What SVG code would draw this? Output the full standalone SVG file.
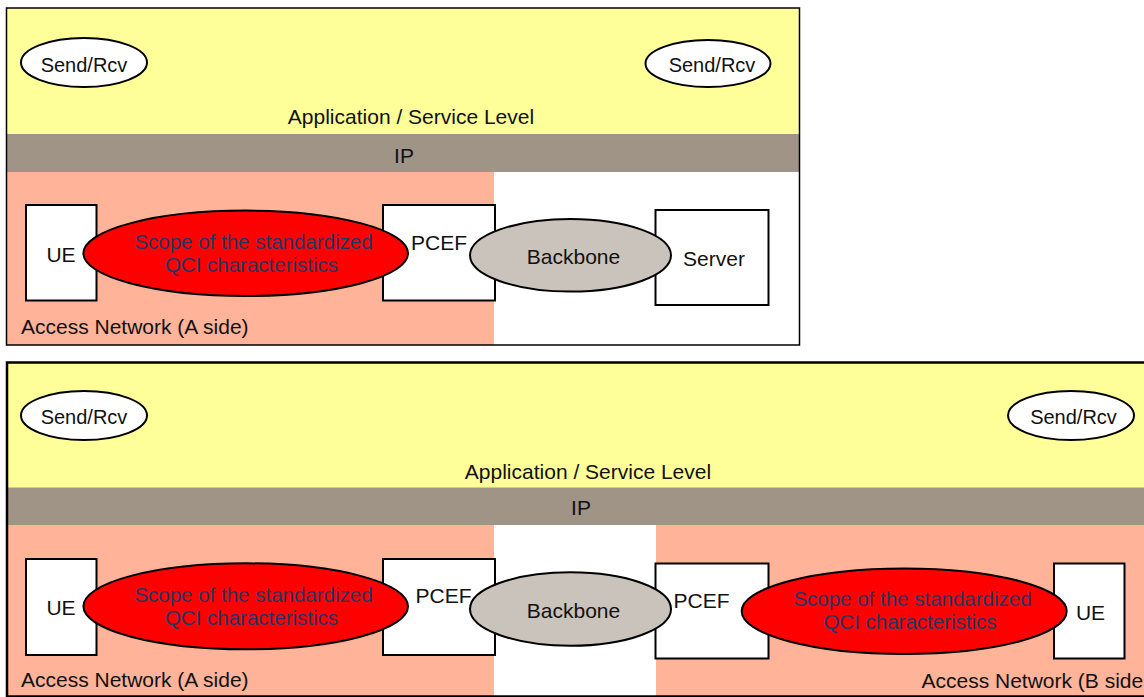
<svg xmlns="http://www.w3.org/2000/svg" width="1144" height="697" viewBox="0 0 1144 697">
<style>
text{font-family:"Liberation Sans",Arial,sans-serif;font-size:21px;fill:#111;text-anchor:middle}
.sr{font-size:20px}
.lt{text-anchor:start}
.q{fill:#1F3864;font-size:20.5px}
.yel{fill:#FFFF99}
.ip{fill:#A09487}
.sal{fill:#FFB399}
.frame{fill:none;stroke:#000;stroke-width:2}
.box{fill:#fff;stroke:#000;stroke-width:2}
.oval{fill:#fff;stroke:#000;stroke-width:2}
.red{fill:#FF0000;stroke:#000;stroke-width:2}
.bb{fill:#C9C3BB;stroke:#000;stroke-width:2}
</style>
<rect width="1144" height="697" fill="#fff"/>

<g id="top-diagram">
  <rect class="yel" x="6.5" y="8" width="793" height="126"/>
  <rect class="ip" x="6.5" y="134" width="793" height="38"/>
  <rect class="sal" x="6.5" y="172" width="487.5" height="173"/>
  <rect fill="#fff" x="494" y="172" width="305.5" height="173"/>
  <rect class="frame" x="6.5" y="8" width="793" height="337" style="stroke-width:1.5"/>
  <text x="411" y="124">Application / Service Level</text>
  <text x="404" y="162.5">IP</text>
  <text class="lt" x="21" y="334">Access Network (A side)</text>
</g>

<g id="top-sendrcv-left"><ellipse class="oval" cx="84" cy="62.5" rx="63" ry="24.5"/><text class="sr" x="84" y="71.5">Send/Rcv</text></g>
<g id="top-sendrcv-right"><ellipse class="oval" cx="708" cy="63.5" rx="62.5" ry="23.5"/><text class="sr" x="712" y="71.5">Send/Rcv</text></g>
<g id="top-ue"><rect class="box" x="26" y="205" width="70.5" height="95.5"/><text x="61" y="261.5">UE</text></g>
<g id="top-pcef"><rect class="box" x="383" y="205" width="112" height="95.5"/><text x="439" y="250">PCEF</text></g>
<g id="top-server"><rect class="box" x="655.5" y="210" width="113" height="95"/><text x="714" y="266">Server</text></g>
<g id="top-scope"><ellipse class="red" cx="245.7" cy="253.3" rx="162.3" ry="42.7"/><text class="q" x="253.5" y="249">Scope of the standardized</text><text class="q" x="251.5" y="272">QCI characteristics</text></g>
<g id="top-backbone"><ellipse class="bb" cx="570.5" cy="255.3" rx="100.5" ry="36.3"/><text x="573.5" y="263.5">Backbone</text></g>

<g id="bottom-diagram">
  <rect class="yel" x="7" y="362" width="1140" height="125.5"/>
  <rect class="ip" x="7" y="487.5" width="1140" height="37.5"/>
  <rect class="sal" x="7" y="525" width="487" height="172"/>
  <rect fill="#fff" x="494" y="525" width="162" height="172"/>
  <rect class="sal" x="656" y="525" width="491" height="172"/>
  <rect class="frame" x="7" y="362.5" width="1150" height="334" style="stroke-width:2.5"/>
  <text x="588" y="478.5">Application / Service Level</text>
  <text x="581" y="515">IP</text>
  <text class="lt" x="21" y="686.5">Access Network (A side)</text>
  <text class="lt" x="921.5" y="687.5">Access Network (B side</text>
</g>

<g id="bot-sendrcv-left"><ellipse class="oval" cx="84" cy="415.5" rx="63" ry="24.5"/><text class="sr" x="84" y="424">Send/Rcv</text></g>
<g id="bot-sendrcv-right"><ellipse class="oval" cx="1071" cy="415.5" rx="63" ry="24.5"/><text class="sr" x="1073.5" y="424">Send/Rcv</text></g>
<g id="bot-ue-a"><rect class="box" x="26" y="559" width="70.5" height="96"/><text x="61" y="615">UE</text></g>
<g id="bot-pcef-a"><rect class="box" x="383" y="559" width="112" height="96"/><text x="443.5" y="602.5">PCEF</text></g>
<g id="bot-pcef-b"><rect class="box" x="655.5" y="563.5" width="113" height="95"/><text x="701.5" y="607.5">PCEF</text></g>
<g id="bot-ue-b"><rect class="box" x="1054" y="563.5" width="70.5" height="95"/><text x="1090.5" y="619.5">UE</text></g>
<g id="bot-scope-a"><ellipse class="red" cx="245.7" cy="606.3" rx="162.3" ry="43"/><text class="q" x="253.5" y="601.5">Scope of the standardized</text><text class="q" x="251.5" y="624.5">QCI characteristics</text></g>
<g id="bot-backbone"><ellipse class="bb" cx="570.5" cy="609" rx="100.5" ry="36.7"/><text x="573.5" y="617.5">Backbone</text></g>
<g id="bot-scope-b"><ellipse class="red" cx="904.2" cy="611.2" rx="162.5" ry="42.8"/><text class="q" x="912.5" y="606">Scope of the standardized</text><text class="q" x="910" y="629">QCI characteristics</text></g>

<g id="connectors"></g>
</svg>
